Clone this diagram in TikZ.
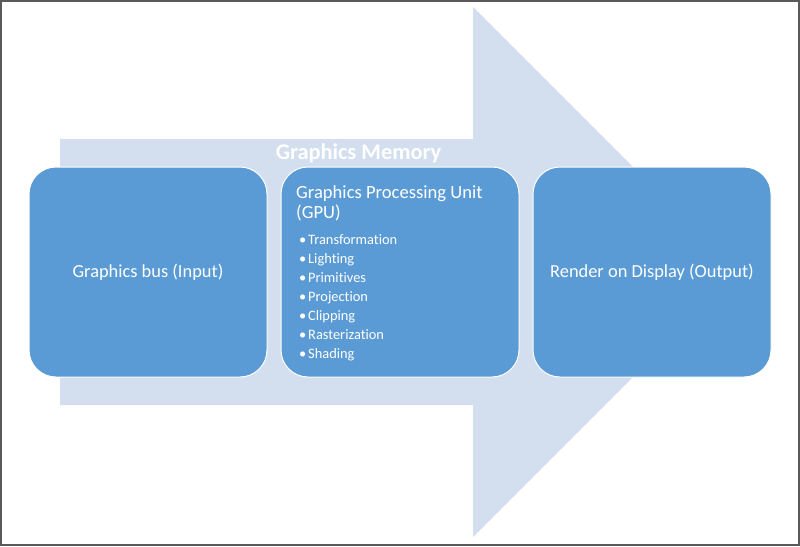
\documentclass[tikz,border=0pt]{standalone}
\usepackage{fontspec}
\setmainfont{Carlito}[RawFeature={-liga;-clig;-dlig}]
\definecolor{boxblue}{HTML}{5B9BD5}
\definecolor{arrowblue}{HTML}{D3DFEF}
\definecolor{framegray}{HTML}{5A5A5A}
\begin{document}
\begin{tikzpicture}[x=1pt,y=-1pt,
  stagebox/.style={draw=white, line width=1pt, fill=boxblue, rounded corners=27pt,
    minimum width=238pt, minimum height=210pt, inner sep=0pt, text=white,
    font=\fontsize{18.4}{22}\selectfont},
  memlabel/.style={anchor=base, inner sep=0pt, text=white, font=\fontsize{22.4}{26}\selectfont\bfseries},
  gputitle/.style={anchor=base west, inner sep=0pt, text=white, font=\fontsize{18.6}{22}\selectfont},
  bulletitem/.style={anchor=base west, inner sep=0pt, text=white, font=\fontsize{14.4}{17}\selectfont},
]
\useasboundingbox (0,0) rectangle (800,546);
\fill[white] (0,0) rectangle (800,546);
\draw[framegray, line width=2pt] (1,1) rectangle (799,545);
\fill[arrowblue] (60,139) -- (473,139) -- (473,7) -- (738,272) -- (473,537) -- (473,405) -- (60,405) -- cycle;
\node[memlabel] (mem) at (358.5,159.5) {Graphics Memory};
\node[stagebox] (input) at (148,272) {Graphics bus (Input)};
\node[stagebox] (gpu) at (400,272) {};
\node[stagebox] (output) at (652,272) {Render on Display (Output)};
\node[gputitle] (gput1) at (296,198.5) {Graphics Processing Unit};
\node[gputitle] (gput2) at (296,218.5) {(GPU)};
\foreach \t [count=\i] in {Transformation,Lighting,Primitives,Projection,Clipping,Rasterization,Shading}
  \node[bulletitem] (b\i) at (299,225+19*\i) {\makebox[9pt][l]{•}\t};
\end{tikzpicture}
\end{document}
